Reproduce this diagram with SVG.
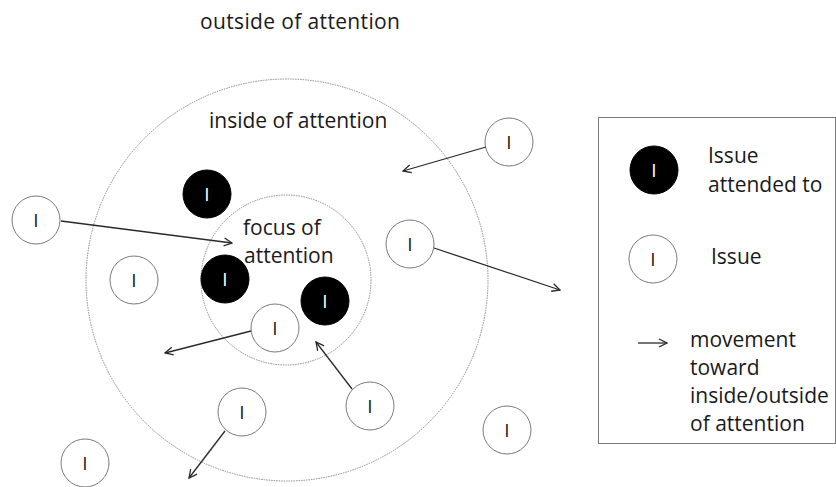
<svg xmlns="http://www.w3.org/2000/svg" width="836" height="487" viewBox="0 0 836 487">
<defs>
<style>
text{font-family:"Open Sans","Liberation Sans",sans-serif;font-size:21px;fill:#1a1a1a}
.lbl{font-size:19px;text-anchor:middle}
.w circle{fill:#fff;stroke:#7a7a7a;stroke-width:1}
.b circle{fill:#000;stroke:#000;stroke-width:1}
.b text{fill:#fff}
.zone{fill:none;stroke:#8a8a8a;stroke-width:1;stroke-dasharray:1.5 1}
.arr{stroke:#2a2a2a;stroke-width:1.3;fill:none;marker-end:url(#ah)}
</style>
<marker id="ah" viewBox="0 0 10 10" refX="9" refY="5" markerWidth="10" markerHeight="10" markerUnits="userSpaceOnUse" orient="auto">
<path d="M1,1 L9,5 L1,9" fill="none" stroke="#2a2a2a" stroke-width="1.3"/>
</marker>
</defs>
<rect width="836" height="487" fill="#fff"/>
<text x="200" y="29" textLength="200">outside of attention</text>
<g id="inside-zone">
<circle class="zone" cx="287" cy="280" r="201"/>
<text x="209" y="128">inside of attention</text>
</g>
<g id="focus-zone">
<circle class="zone" cx="286" cy="280" r="85"/>
<text x="243" y="235">focus of</text>
<text x="244" y="263">attention</text>
</g>
<g id="n1" class="w"><circle cx="36" cy="220" r="24"/><text class="lbl" x="36" y="227">I</text></g>
<g id="n2" class="b"><circle cx="207" cy="194" r="24"/><text class="lbl" x="207" y="201">I</text></g>
<g id="n3" class="w"><circle cx="134" cy="280" r="24"/><text class="lbl" x="134" y="287">I</text></g>
<g id="n4" class="b"><circle cx="225" cy="279" r="24"/><text class="lbl" x="225" y="286">I</text></g>
<g id="n5" class="b"><circle cx="325" cy="301" r="24"/><text class="lbl" x="325" y="308">I</text></g>
<g id="n6" class="w"><circle cx="275" cy="328" r="24"/><text class="lbl" x="275" y="335">I</text></g>
<g id="n7" class="w"><circle cx="370" cy="406" r="24"/><text class="lbl" x="370" y="413">I</text></g>
<g id="n8" class="w"><circle cx="242" cy="412" r="24"/><text class="lbl" x="242" y="419">I</text></g>
<g id="n9" class="w"><circle cx="85" cy="463" r="24"/><text class="lbl" x="85" y="470">I</text></g>
<g id="n10" class="w"><circle cx="509" cy="142" r="24"/><text class="lbl" x="509" y="149">I</text></g>
<g id="n11" class="w"><circle cx="410" cy="244" r="24"/><text class="lbl" x="410" y="251">I</text></g>
<g id="n12" class="w"><circle cx="507" cy="430" r="24"/><text class="lbl" x="507" y="437">I</text></g>
<g id="connectors">
<line class="arr" x1="61" y1="221" x2="232" y2="243"/>
<line class="arr" x1="251" y1="331" x2="165" y2="353"/>
<line class="arr" x1="352" y1="389" x2="316" y2="342"/>
<line class="arr" x1="225" y1="431" x2="189" y2="478"/>
<line class="arr" x1="486" y1="147" x2="403" y2="171"/>
<line class="arr" x1="434" y1="248" x2="560" y2="290"/>
</g>
<g id="legend">
<rect x="598.5" y="117.5" width="237" height="326" fill="none" stroke="#7a7a7a" stroke-width="1"/>
<g id="legend-attended" class="b"><circle cx="654" cy="170" r="24"/><text class="lbl" x="654" y="177">I</text></g>
<text x="708" y="163">Issue</text>
<text x="708" y="192">attended to</text>
<g id="legend-issue" class="w"><circle cx="653" cy="259" r="24"/><text class="lbl" x="653" y="266">I</text></g>
<text x="711" y="264">Issue</text>
<line class="arr" x1="638" y1="343" x2="667" y2="343"/>
<text x="690" y="347">movement</text>
<text x="690" y="375">toward</text>
<text x="690" y="403">inside/outside</text>
<text x="690" y="431">of attention</text>
</g>
</svg>
